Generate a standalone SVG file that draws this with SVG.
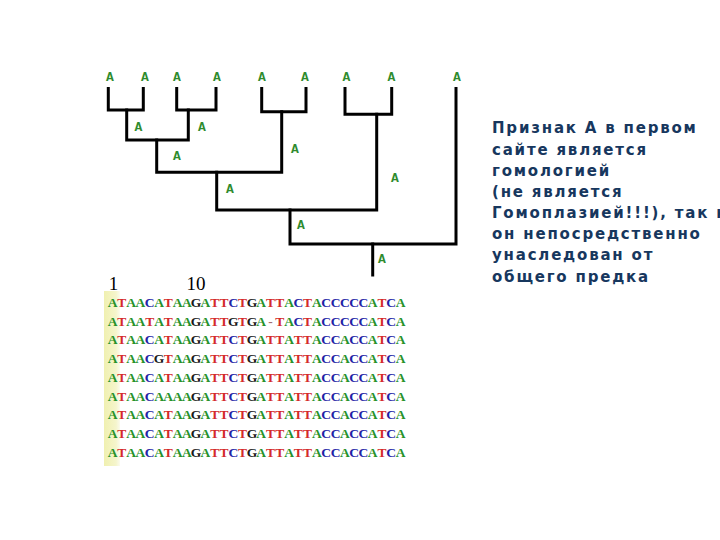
<svg xmlns="http://www.w3.org/2000/svg" width="720" height="540" viewBox="0 0 720 540">
<defs>
<linearGradient id="yel" x1="0" y1="0" x2="1" y2="0">
<stop offset="0" stop-color="#f0f0b0"/>
<stop offset="0.75" stop-color="#f5f5cc"/>
<stop offset="1" stop-color="#fbfbee"/>
</linearGradient>
<style>
.br{fill:none;stroke:#000;stroke-width:3;stroke-linejoin:miter;stroke-linecap:square}
.lab{font-family:"Liberation Mono",monospace;font-weight:bold;font-size:13px;fill:#2e8b2e;text-anchor:middle}
.seq{font-family:"Liberation Serif",serif;font-weight:bold;font-size:13.5px;text-anchor:middle}
.a{fill:#27922a}.t{fill:#d42a2a}.c{fill:#2222a6}.g{fill:#1a1a1a}.d{fill:#a07070}
.num{font-family:"Liberation Serif",serif;font-size:19px;fill:#000;text-anchor:middle}
.note{font-family:"DejaVu Sans",sans-serif;font-weight:bold;font-size:15px;fill:#17375e;letter-spacing:1.8px}
</style>
</defs>
<rect width="720" height="540" fill="#fff"/>
<g id="connectors">
<path class="br" d="M108.3 88.5V110H143.3V88.5"/>
<path class="br" d="M176.7 88.5V110H216V88.5"/>
<path class="br" d="M126.7 110V140H188.3V110"/>
<path class="br" d="M261.7 88.5V111.7H306V88.5"/>
<path class="br" d="M345 88.5V114.3H391.7V88.5"/>
<path class="br" d="M156.7 140V172.3H281.7V111.7"/>
<path class="br" d="M376.7 114.3V210H216.7V172.3"/>
<path class="br" d="M290 210V244H456V88.5"/>
<path class="br" d="M372.7 244V275"/>
</g>
<g id="leaves">
<text class="lab" x="110" y="81">A</text>
<text class="lab" x="145" y="81">A</text>
<text class="lab" x="177" y="81">A</text>
<text class="lab" x="217" y="81">A</text>
<text class="lab" x="262" y="81">A</text>
<text class="lab" x="305" y="81">A</text>
<text class="lab" x="346.5" y="81">A</text>
<text class="lab" x="391.5" y="81">A</text>
<text class="lab" x="457" y="81">A</text>
</g>
<g id="internal-nodes">
<text class="lab" x="138.5" y="131">A</text>
<text class="lab" x="202" y="131">A</text>
<text class="lab" x="177" y="160">A</text>
<text class="lab" x="295" y="152.5">A</text>
<text class="lab" x="230" y="193">A</text>
<text class="lab" x="395" y="181.5">A</text>
<text class="lab" x="301" y="228.5">A</text>
<text class="lab" x="382" y="263">A</text>
</g>
<g id="alignment">
<rect x="104" y="291" width="16" height="175" fill="url(#yel)"/>
<text class="num" x="113.5" y="290">1</text>
<text class="num" x="196" y="290">10</text>
<text class="seq" y="307" x="112.5 121.8 131.1 140.4 149.7 159 168.2 177.5 186.8 196.1 205.4 214.7 224 233.3 242.6 251.9 261.1 270.4 279.7 289 298.3 307.6 316.9 326.2 335.5 344.8 354 363.3 372.6 381.9 391.2 400.5"><tspan class="a">A</tspan><tspan class="t">T</tspan><tspan class="a">AA</tspan><tspan class="c">C</tspan><tspan class="a">A</tspan><tspan class="t">T</tspan><tspan class="a">AA</tspan><tspan class="g">G</tspan><tspan class="a">A</tspan><tspan class="t">TT</tspan><tspan class="c">C</tspan><tspan class="t">T</tspan><tspan class="g">G</tspan><tspan class="a">A</tspan><tspan class="t">TT</tspan><tspan class="a">A</tspan><tspan class="c">C</tspan><tspan class="t">T</tspan><tspan class="a">A</tspan><tspan class="c">CCCCC</tspan><tspan class="a">A</tspan><tspan class="t">T</tspan><tspan class="c">C</tspan><tspan class="a">A</tspan></text>
<text class="seq" y="325.7" x="112.5 121.8 131.1 140.4 149.7 159 168.2 177.5 186.8 196.1 205.4 214.7 224 233.3 242.6 251.9 261.1 270.4 279.7 289 298.3 307.6 316.9 326.2 335.5 344.8 354 363.3 372.6 381.9 391.2 400.5"><tspan class="a">A</tspan><tspan class="t">T</tspan><tspan class="a">AA</tspan><tspan class="t">T</tspan><tspan class="a">A</tspan><tspan class="t">T</tspan><tspan class="a">AA</tspan><tspan class="g">G</tspan><tspan class="a">A</tspan><tspan class="t">TT</tspan><tspan class="g">G</tspan><tspan class="t">T</tspan><tspan class="g">G</tspan><tspan class="a">A</tspan><tspan class="d">-</tspan><tspan class="t">T</tspan><tspan class="a">A</tspan><tspan class="c">C</tspan><tspan class="t">T</tspan><tspan class="a">A</tspan><tspan class="c">CCCCC</tspan><tspan class="a">A</tspan><tspan class="t">T</tspan><tspan class="c">C</tspan><tspan class="a">A</tspan></text>
<text class="seq" y="344.4" x="112.5 121.8 131.1 140.4 149.7 159 168.2 177.5 186.8 196.1 205.4 214.7 224 233.3 242.6 251.9 261.1 270.4 279.7 289 298.3 307.6 316.9 326.2 335.5 344.8 354 363.3 372.6 381.9 391.2 400.5"><tspan class="a">A</tspan><tspan class="t">T</tspan><tspan class="a">AA</tspan><tspan class="c">C</tspan><tspan class="a">A</tspan><tspan class="t">T</tspan><tspan class="a">AA</tspan><tspan class="g">G</tspan><tspan class="a">A</tspan><tspan class="t">TT</tspan><tspan class="c">C</tspan><tspan class="t">T</tspan><tspan class="g">G</tspan><tspan class="a">A</tspan><tspan class="t">TT</tspan><tspan class="a">A</tspan><tspan class="t">TT</tspan><tspan class="a">A</tspan><tspan class="c">CC</tspan><tspan class="a">A</tspan><tspan class="c">CC</tspan><tspan class="a">A</tspan><tspan class="t">T</tspan><tspan class="c">C</tspan><tspan class="a">A</tspan></text>
<text class="seq" y="363.1" x="112.5 121.8 131.1 140.4 149.7 159 168.2 177.5 186.8 196.1 205.4 214.7 224 233.3 242.6 251.9 261.1 270.4 279.7 289 298.3 307.6 316.9 326.2 335.5 344.8 354 363.3 372.6 381.9 391.2 400.5"><tspan class="a">A</tspan><tspan class="t">T</tspan><tspan class="a">AA</tspan><tspan class="c">C</tspan><tspan class="g">G</tspan><tspan class="t">T</tspan><tspan class="a">AA</tspan><tspan class="g">G</tspan><tspan class="a">A</tspan><tspan class="t">TT</tspan><tspan class="c">C</tspan><tspan class="t">T</tspan><tspan class="g">G</tspan><tspan class="a">A</tspan><tspan class="t">TT</tspan><tspan class="a">A</tspan><tspan class="t">TT</tspan><tspan class="a">A</tspan><tspan class="c">CC</tspan><tspan class="a">A</tspan><tspan class="c">CC</tspan><tspan class="a">A</tspan><tspan class="t">T</tspan><tspan class="c">C</tspan><tspan class="a">A</tspan></text>
<text class="seq" y="381.8" x="112.5 121.8 131.1 140.4 149.7 159 168.2 177.5 186.8 196.1 205.4 214.7 224 233.3 242.6 251.9 261.1 270.4 279.7 289 298.3 307.6 316.9 326.2 335.5 344.8 354 363.3 372.6 381.9 391.2 400.5"><tspan class="a">A</tspan><tspan class="t">T</tspan><tspan class="a">AA</tspan><tspan class="c">C</tspan><tspan class="a">A</tspan><tspan class="t">T</tspan><tspan class="a">AA</tspan><tspan class="g">G</tspan><tspan class="a">A</tspan><tspan class="t">TT</tspan><tspan class="c">C</tspan><tspan class="t">T</tspan><tspan class="g">G</tspan><tspan class="a">A</tspan><tspan class="t">TT</tspan><tspan class="a">A</tspan><tspan class="t">TT</tspan><tspan class="a">A</tspan><tspan class="c">CC</tspan><tspan class="a">A</tspan><tspan class="c">CC</tspan><tspan class="a">A</tspan><tspan class="t">T</tspan><tspan class="c">C</tspan><tspan class="a">A</tspan></text>
<text class="seq" y="400.5" x="112.5 121.8 131.1 140.4 149.7 159 168.2 177.5 186.8 196.1 205.4 214.7 224 233.3 242.6 251.9 261.1 270.4 279.7 289 298.3 307.6 316.9 326.2 335.5 344.8 354 363.3 372.6 381.9 391.2 400.5"><tspan class="a">A</tspan><tspan class="t">T</tspan><tspan class="a">AA</tspan><tspan class="c">C</tspan><tspan class="a">AAAA</tspan><tspan class="g">G</tspan><tspan class="a">A</tspan><tspan class="t">TT</tspan><tspan class="c">C</tspan><tspan class="t">T</tspan><tspan class="g">G</tspan><tspan class="a">A</tspan><tspan class="t">TT</tspan><tspan class="a">A</tspan><tspan class="t">TT</tspan><tspan class="a">A</tspan><tspan class="c">CC</tspan><tspan class="a">A</tspan><tspan class="c">CC</tspan><tspan class="a">A</tspan><tspan class="t">T</tspan><tspan class="c">C</tspan><tspan class="a">A</tspan></text>
<text class="seq" y="419.2" x="112.5 121.8 131.1 140.4 149.7 159 168.2 177.5 186.8 196.1 205.4 214.7 224 233.3 242.6 251.9 261.1 270.4 279.7 289 298.3 307.6 316.9 326.2 335.5 344.8 354 363.3 372.6 381.9 391.2 400.5"><tspan class="a">A</tspan><tspan class="t">T</tspan><tspan class="a">AA</tspan><tspan class="c">C</tspan><tspan class="a">A</tspan><tspan class="t">T</tspan><tspan class="a">AA</tspan><tspan class="g">G</tspan><tspan class="a">A</tspan><tspan class="t">TT</tspan><tspan class="c">C</tspan><tspan class="t">T</tspan><tspan class="g">G</tspan><tspan class="a">A</tspan><tspan class="t">TT</tspan><tspan class="a">A</tspan><tspan class="t">TT</tspan><tspan class="a">A</tspan><tspan class="c">CC</tspan><tspan class="a">A</tspan><tspan class="c">CC</tspan><tspan class="a">A</tspan><tspan class="t">T</tspan><tspan class="c">C</tspan><tspan class="a">A</tspan></text>
<text class="seq" y="437.9" x="112.5 121.8 131.1 140.4 149.7 159 168.2 177.5 186.8 196.1 205.4 214.7 224 233.3 242.6 251.9 261.1 270.4 279.7 289 298.3 307.6 316.9 326.2 335.5 344.8 354 363.3 372.6 381.9 391.2 400.5"><tspan class="a">A</tspan><tspan class="t">T</tspan><tspan class="a">AA</tspan><tspan class="c">C</tspan><tspan class="a">A</tspan><tspan class="t">T</tspan><tspan class="a">AA</tspan><tspan class="g">G</tspan><tspan class="a">A</tspan><tspan class="t">TT</tspan><tspan class="c">C</tspan><tspan class="t">T</tspan><tspan class="g">G</tspan><tspan class="a">A</tspan><tspan class="t">TT</tspan><tspan class="a">A</tspan><tspan class="t">TT</tspan><tspan class="a">A</tspan><tspan class="c">CC</tspan><tspan class="a">A</tspan><tspan class="c">CC</tspan><tspan class="a">A</tspan><tspan class="t">T</tspan><tspan class="c">C</tspan><tspan class="a">A</tspan></text>
<text class="seq" y="456.6" x="112.5 121.8 131.1 140.4 149.7 159 168.2 177.5 186.8 196.1 205.4 214.7 224 233.3 242.6 251.9 261.1 270.4 279.7 289 298.3 307.6 316.9 326.2 335.5 344.8 354 363.3 372.6 381.9 391.2 400.5"><tspan class="a">A</tspan><tspan class="t">T</tspan><tspan class="a">AA</tspan><tspan class="c">C</tspan><tspan class="a">A</tspan><tspan class="t">T</tspan><tspan class="a">AA</tspan><tspan class="g">G</tspan><tspan class="a">A</tspan><tspan class="t">TT</tspan><tspan class="c">C</tspan><tspan class="t">T</tspan><tspan class="g">G</tspan><tspan class="a">A</tspan><tspan class="t">TT</tspan><tspan class="a">A</tspan><tspan class="t">TT</tspan><tspan class="a">A</tspan><tspan class="c">CC</tspan><tspan class="a">A</tspan><tspan class="c">CC</tspan><tspan class="a">A</tspan><tspan class="t">T</tspan><tspan class="c">C</tspan><tspan class="a">A</tspan></text>
</g>
<g id="note">
<text class="note" x="492" y="133">Признак А в первом</text>
<text class="note" x="492" y="154.5">сайте является</text>
<text class="note" x="492" y="175.5">гомологией</text>
<text class="note" x="492" y="196.5">(не является</text>
<text class="note" x="492" y="218">Гомоплазией!!!), так как</text>
<text class="note" x="492" y="239">он непосредственно</text>
<text class="note" x="492" y="260">унаследован от</text>
<text class="note" x="492" y="281.5">общего предка</text>
</g>
</svg>
